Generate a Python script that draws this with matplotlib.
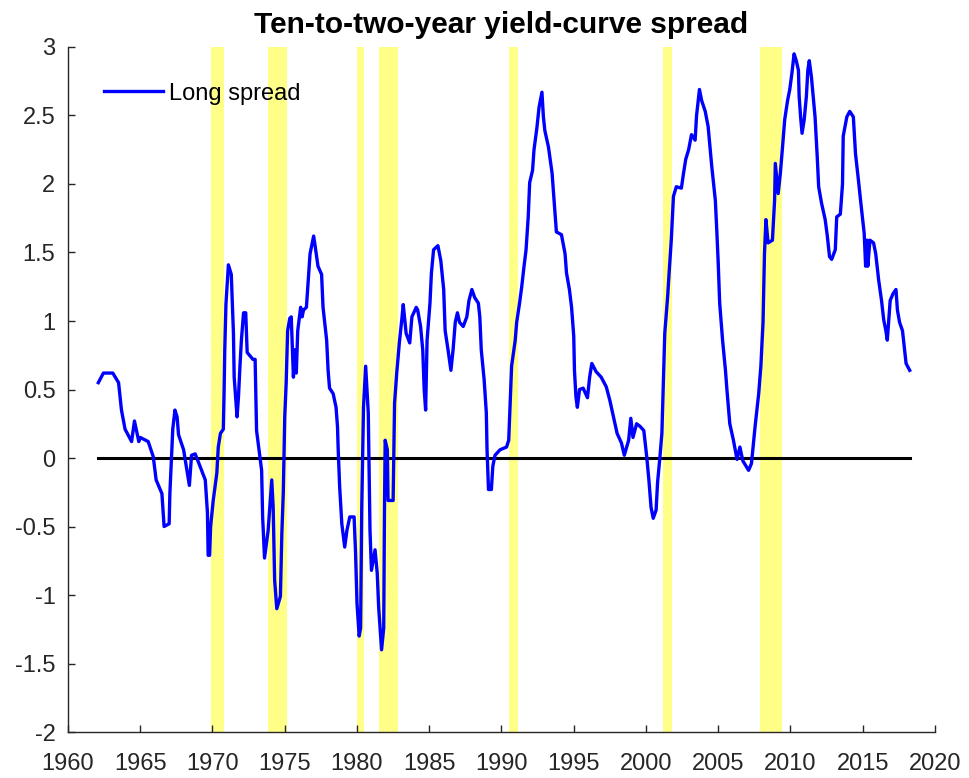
import matplotlib
matplotlib.use("Agg")
import matplotlib.pyplot as plt
from matplotlib.ticker import FormatStrFormatter

plt.rcParams['font.family'] = ['Liberation Sans', 'DejaVu Sans']
plt.rcParams['axes.unicode_minus'] = False

# ten-minus-two-year spread (year, percentage points)
years = [
    1962.1, 1962.45, 1963.1, 1963.5, 1963.7, 1963.95, 1964.4, 1964.6, 1964.9, 1965.0,
    1965.55, 1965.9, 1966.1, 1966.5, 1966.65, 1967.0, 1967.05, 1967.25, 1967.4, 1967.55,
    1967.65, 1968.0, 1968.2, 1968.4, 1968.55, 1968.8, 1969.1, 1969.5, 1969.65, 1969.7,
    1969.8, 1969.87, 1970.05, 1970.3, 1970.4, 1970.55, 1970.75, 1970.8, 1970.85, 1970.93,
    1971.1, 1971.3, 1971.45, 1971.5, 1971.7, 1971.8, 1971.9, 1972.0, 1972.15, 1972.3,
    1972.4, 1972.8, 1972.95, 1973.05, 1973.3, 1973.4, 1973.47, 1973.6, 1973.85, 1974.1,
    1974.2, 1974.3, 1974.45, 1974.7, 1974.8, 1974.9, 1975.0, 1975.1, 1975.2, 1975.35,
    1975.45, 1975.6, 1975.7, 1975.8, 1975.9, 1976.1, 1976.2, 1976.3, 1976.5, 1976.75,
    1977.0, 1977.1, 1977.3, 1977.55, 1977.65, 1977.9, 1978.0, 1978.1, 1978.35, 1978.55,
    1978.65, 1978.7, 1978.8, 1978.95, 1979.15, 1979.3, 1979.5, 1979.8, 1979.9, 1980.0,
    1980.15, 1980.25, 1980.33, 1980.45, 1980.6, 1980.78, 1980.9, 1981.0, 1981.25, 1981.4,
    1981.5, 1981.7, 1981.85, 1981.9, 1981.95, 1982.1, 1982.15, 1982.5, 1982.6, 1982.75,
    1982.93, 1983.1, 1983.2, 1983.4, 1983.65, 1983.8, 1984.1, 1984.2, 1984.4, 1984.55,
    1984.65, 1984.75, 1984.85, 1985.05, 1985.15, 1985.3, 1985.6, 1985.8, 1986.0, 1986.1,
    1986.3, 1986.5, 1986.65, 1986.8, 1986.95, 1987.1, 1987.35, 1987.6, 1987.75, 1987.95,
    1988.15, 1988.4, 1988.5, 1988.6, 1988.8, 1988.95, 1989.0, 1989.1, 1989.3, 1989.4,
    1989.55, 1989.9, 1990.35, 1990.5, 1990.6, 1990.7, 1990.95, 1991.05, 1991.25, 1991.4,
    1991.55, 1991.7, 1991.85, 1991.95, 1992.15, 1992.25, 1992.45, 1992.6, 1992.8, 1992.9,
    1993.0, 1993.25, 1993.5, 1993.65, 1993.8, 1994.15, 1994.4, 1994.5, 1994.7, 1994.85,
    1995.0, 1995.05, 1995.15, 1995.25, 1995.4, 1995.65, 1995.95, 1996.1, 1996.25, 1996.55,
    1996.9, 1997.25, 1997.5, 1997.75, 1998.0, 1998.3, 1998.5, 1998.8, 1998.95, 1999.1,
    1999.35, 1999.6, 1999.85, 2000.05, 2000.2, 2000.35, 2000.5, 2000.7, 2000.8, 2000.95,
    2001.1, 2001.2, 2001.3, 2001.5, 2001.6, 2001.75, 2001.9, 2002.1, 2002.45, 2002.6,
    2002.75, 2002.95, 2003.15, 2003.4, 2003.5, 2003.7, 2003.85, 2004.1, 2004.3, 2004.55,
    2004.8, 2004.9, 2005.0, 2005.1, 2005.3, 2005.5, 2005.6, 2005.8, 2006.05, 2006.3,
    2006.5, 2006.7, 2007.1, 2007.3, 2007.55, 2007.8, 2007.95, 2008.1, 2008.2, 2008.3,
    2008.45, 2008.75, 2008.9, 2008.95, 2009.15, 2009.3, 2009.45, 2009.6, 2009.8, 2009.95,
    2010.1, 2010.25, 2010.4, 2010.55, 2010.6, 2010.7, 2010.8, 2010.95, 2011.1, 2011.2,
    2011.3, 2011.45, 2011.7, 2011.85, 2011.95, 2012.15, 2012.4, 2012.55, 2012.7, 2012.85,
    2013.1, 2013.2, 2013.45, 2013.6, 2013.65, 2013.9, 2014.1, 2014.35, 2014.5, 2014.7,
    2014.85, 2015.1, 2015.2, 2015.3, 2015.35, 2015.5, 2015.75, 2015.9, 2016.1, 2016.3,
    2016.45, 2016.6, 2016.7, 2016.8, 2016.9, 2017.1, 2017.3, 2017.4, 2017.55, 2017.75,
    2017.9, 2018.0, 2018.25,
]
spread = [
    0.55, 0.62, 0.62, 0.55, 0.35, 0.21, 0.12, 0.27, 0.12, 0.15,
    0.12, 0.01, -0.16, -0.26, -0.50, -0.48, -0.26, 0.21, 0.35, 0.30,
    0.17, 0.06, -0.07, -0.20, 0.02, 0.03, -0.05, -0.16, -0.40, -0.71,
    -0.71, -0.50, -0.31, -0.11, 0.08, 0.18, 0.21, 0.47, 0.79, 1.12,
    1.41, 1.34, 0.91, 0.59, 0.30, 0.45, 0.67, 0.86, 1.06, 1.06,
    0.77, 0.72, 0.72, 0.20, -0.01, -0.09, -0.43, -0.73, -0.53, -0.16,
    -0.36, -0.89, -1.10, -1.01, -0.55, -0.25, 0.30, 0.55, 0.93, 1.02,
    1.03, 0.59, 0.79, 0.62, 0.93, 1.10, 1.03, 1.08, 1.10, 1.49,
    1.62, 1.55, 1.40, 1.34, 1.10, 0.86, 0.64, 0.51, 0.47, 0.37,
    0.23, 0.06, -0.21, -0.48, -0.65, -0.53, -0.43, -0.43, -0.69, -1.06,
    -1.30, -1.24, -0.36, 0.37, 0.67, 0.33, -0.53, -0.82, -0.67, -0.84,
    -1.09, -1.40, -1.24, -0.40, 0.13, 0.06, -0.31, -0.31, 0.40, 0.62,
    0.84, 1.01, 1.12, 0.91, 0.84, 1.03, 1.10, 1.08, 0.96, 0.79,
    0.50, 0.35, 0.86, 1.13, 1.35, 1.52, 1.55, 1.44, 1.23, 0.93,
    0.79, 0.64, 0.79, 0.99, 1.06, 0.99, 0.96, 1.03, 1.15, 1.23,
    1.17, 1.13, 1.03, 0.79, 0.57, 0.33, 0.06, -0.23, -0.23, -0.06,
    0.02, 0.06, 0.08, 0.13, 0.40, 0.67, 0.86, 0.99, 1.13, 1.25,
    1.39, 1.52, 1.76, 2.01, 2.10, 2.25, 2.41, 2.56, 2.67, 2.49,
    2.39, 2.27, 2.08, 1.86, 1.65, 1.63, 1.49, 1.35, 1.23, 1.10,
    0.89, 0.64, 0.45, 0.37, 0.50, 0.51, 0.44, 0.59, 0.69, 0.63,
    0.59, 0.52, 0.42, 0.30, 0.18, 0.11, 0.02, 0.13, 0.29, 0.15,
    0.25, 0.23, 0.20, 0.01, -0.16, -0.36, -0.44, -0.38, -0.18, -0.01,
    0.18, 0.55, 0.91, 1.18, 1.35, 1.59, 1.91, 1.98, 1.97, 2.08,
    2.18, 2.25, 2.36, 2.32, 2.50, 2.69, 2.61, 2.53, 2.42, 2.13,
    1.88, 1.66, 1.42, 1.13, 0.86, 0.64, 0.50, 0.25, 0.13, -0.01,
    0.08, -0.02, -0.09, -0.04, 0.23, 0.47, 0.67, 0.99, 1.49, 1.74,
    1.57, 1.59, 1.88, 2.15, 1.93, 2.08, 2.27, 2.47, 2.61, 2.69,
    2.81, 2.95, 2.90, 2.83, 2.64, 2.49, 2.37, 2.47, 2.64, 2.83,
    2.90, 2.78, 2.49, 2.20, 1.98, 1.86, 1.74, 1.62, 1.47, 1.45,
    1.52, 1.76, 1.78, 2.00, 2.35, 2.49, 2.53, 2.49, 2.22, 2.03,
    1.88, 1.64, 1.40, 1.59, 1.40, 1.59, 1.57, 1.49, 1.30, 1.15,
    1.01, 0.93, 0.86, 1.01, 1.15, 1.20, 1.23, 1.08, 0.99, 0.93,
    0.79, 0.69, 0.64,
]

# NBER recessions (shaded)
rec_start = [1969.92, 1973.83, 1980.0, 1981.5, 1990.5, 2001.17, 2007.92]
rec_end = [1970.83, 1975.17, 1980.5, 1982.83, 1991.17, 2001.83, 2009.42]

xticks = list(range(1960, 2021, 5))
yticks = [-2, -1.5, -1, -0.5, 0, 0.5, 1, 1.5, 2, 2.5, 3]

grey = (0.15, 0.15, 0.15)

fig = plt.figure(figsize=(9.7, 7.78), dpi=100)
ax = fig.add_axes([0.0701, 0.0591, 0.8938, 0.8805])

for s, e in zip(rec_start, rec_end):
    ax.axvspan(s, e, color=(1, 1, 0.45), alpha=0.85, lw=0, zorder=0)

ax.plot(years, spread, color=(0, 0, 1), lw=2.4, label='Long spread', zorder=3)
ax.plot([years[0], years[-1]], [0, 0], color='black', lw=2.2, zorder=2)

ax.set_xlim(1960, 2020)
ax.set_ylim(-2, 3)
ax.set_xticks(xticks)
ax.set_yticks(yticks)
ax.yaxis.set_major_formatter(FormatStrFormatter('%g'))

for side in ['top', 'right']:
    ax.spines[side].set_visible(False)
for side in ['left', 'bottom']:
    ax.spines[side].set_color(grey)
    ax.spines[side].set_linewidth(1.0)

ax.tick_params(direction='in', length=5, width=1.0, color=grey,
               labelcolor=grey, labelsize=17)
ax.tick_params(axis='x', pad=15)
ax.tick_params(axis='y', pad=9)

ax.set_title('Ten-to-two-year yield-curve spread', fontsize=21.5,
             fontweight='bold', pad=10)

ax.legend(loc='upper left', bbox_to_anchor=(0.042, 0.948), frameon=False,
          fontsize=17, handlelength=2.5, handletextpad=0.25,
          borderpad=0, borderaxespad=0)

fig.savefig('out.png', dpi=100)
